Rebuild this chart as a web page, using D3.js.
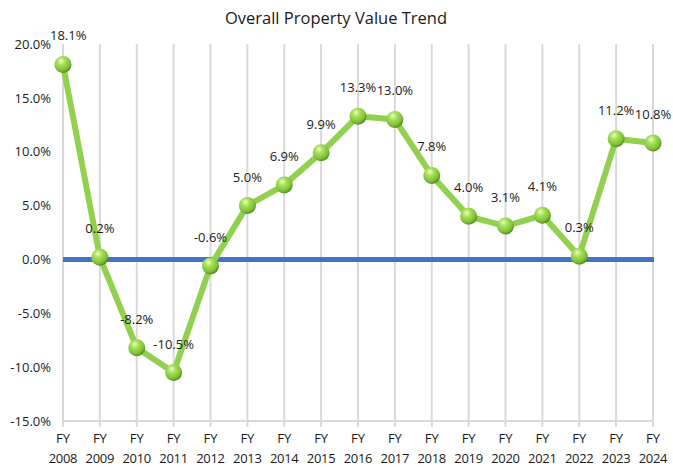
<!DOCTYPE html>
<html>
<head>
<meta charset="utf-8">
<script src="https://cdn.jsdelivr.net/npm/d3@7"></script>
<style>
body { margin: 0; background: #fff; }
text { font-family: "Open Sans", "Lato", sans-serif; fill: #1a1a1a; }
</style>
</head>
<body>
<div id="canvas"></div>
<script>
// ----------------------------------------------------------
// DATA -----------------------------------------------------
// ----------------------------------------------------------
var years = ["2008", "2009", "2010", "2011", "2012", "2013", "2014", "2015", "2016",
  "2017", "2018", "2019", "2020", "2021", "2022", "2023", "2024"];
var values = [18.1, 0.2, -8.2, -10.5, -0.6, 5.0, 6.9, 9.9, 13.3, 13.0, 7.8, 4.0, 3.1, 4.1, 0.3, 11.2, 10.8];
var yTicks = [20, 15, 10, 5, 0, -5, -10, -15];
var title = "Overall Property Value Trend";

// ----------------------------------------------------------
// STRUCTURE ------------------------------------------------
// ----------------------------------------------------------
var W = 673, H = 467;
var svg = d3.select("#canvas").append("svg")
  .attr("width", W)
  .attr("height", H);

// percent with a plain hyphen for negatives
function pct(d) { return d.toFixed(1) + "%"; }

var defs = svg.append("defs");
var grad = defs.append("radialGradient")
  .attr("id", "ball")
  .attr("cx", "40%").attr("cy", "35%").attr("r", "65%")
  .attr("fx", "38%").attr("fy", "28%");
grad.append("stop").attr("offset", "0%").attr("stop-color", "#eaffc4");
grad.append("stop").attr("offset", "35%").attr("stop-color", "#a8e05a");
grad.append("stop").attr("offset", "80%").attr("stop-color", "#7cbf34");
grad.append("stop").attr("offset", "100%").attr("stop-color", "#4f8a1c");

// scales
var x = d3.scalePoint()
  .domain(years)
  .range([63, 653]);
var y = d3.scaleLinear()
  .domain([-15, 20])
  .range([421, 44]);

// ----------------------------------------------------------
// LAYOUT ---------------------------------------------------
// ----------------------------------------------------------
// vertical grid lines at each category
svg.append("g")
  .selectAll("line")
  .data(years)
  .enter().append("line")
  .attr("x1", function(d) { return x(d); })
  .attr("x2", function(d) { return x(d); })
  .attr("y1", y(20))
  .attr("y2", y(-15) + 6)
  .attr("stroke", "#d9d9d9")
  .attr("stroke-width", 2);

// bottom axis line
svg.append("line")
  .attr("x1", x(years[0]) - 1)
  .attr("x2", x(years[years.length - 1]) + 1)
  .attr("y1", y(-15))
  .attr("y2", y(-15))
  .attr("stroke", "#d9d9d9")
  .attr("stroke-width", 2);

// zero line
svg.append("line")
  .attr("x1", x(years[0]))
  .attr("x2", x(years[years.length - 1]) + 1)
  .attr("y1", y(0))
  .attr("y2", y(0))
  .attr("stroke", "#4472c4")
  .attr("stroke-width", 5);

// y axis
var yAxis = svg.append("g")
  .attr("transform", "translate(51,0)")
  .call(d3.axisLeft(y)
    .tickValues(yTicks)
    .tickSize(0)
    .tickPadding(0)
    .tickFormat(pct));
yAxis.select(".domain").remove();
yAxis.selectAll("text")
  .style("font-family", "'Open Sans', Lato, sans-serif")
  .style("font-size", "13px")
  .attr("fill", "#1a1a1a");

// x axis labels (two lines)
var xLab = svg.append("g");
xLab.selectAll("text.fy")
  .data(years)
  .enter().append("text")
  .attr("class", "fy")
  .attr("x", function(d) { return x(d); })
  .attr("y", 443)
  .attr("text-anchor", "middle")
  .style("font-size", "13px")
  .text("FY");
xLab.selectAll("text.yr")
  .data(years)
  .enter().append("text")
  .attr("class", "yr")
  .attr("x", function(d) { return x(d); })
  .attr("y", 463)
  .attr("text-anchor", "middle")
  .style("font-size", "13px")
  .style("letter-spacing", "-0.3px")
  .text(function(d) { return d; });

// ----------------------------------------------------------
// GFX ------------------------------------------------------
// ----------------------------------------------------------
var line = d3.line()
  .x(function(d, i) { return x(years[i]); })
  .y(function(d) { return y(d); });

svg.append("path")
  .datum(values)
  .attr("d", line)
  .attr("fill", "none")
  .attr("stroke", "#92d050")
  .attr("stroke-width", 6)
  .attr("stroke-linejoin", "round");

svg.append("g")
  .selectAll("circle")
  .data(values)
  .enter().append("circle")
  .attr("cx", function(d, i) { return x(years[i]); })
  .attr("cy", function(d) { return y(d); })
  .attr("r", 8.5)
  .attr("fill", "url(#ball)");

// data labels
var labels = svg.append("g")
  .selectAll("text")
  .data(values)
  .enter().append("text")
  .attr("x", function(d, i) { return x(years[i]); })
  .attr("y", function(d) { return y(d) - 24; })
  .attr("text-anchor", "middle")
  .style("font-size", "13px")
  .text(pct);

// keep labels inside the plot area on the left
labels.each(function() {
  var b = this.getBBox();
  if (b.x < 50) d3.select(this).attr("x", +d3.select(this).attr("x") + (50 - b.x));
});

// ----------------------------------------------------------
// TEXT -----------------------------------------------------
// ----------------------------------------------------------
svg.append("text")
  .attr("x", 336)
  .attr("y", 24)
  .attr("text-anchor", "middle")
  .style("font-size", "16.5px")
  .text(title);
</script>
</body>
</html>
